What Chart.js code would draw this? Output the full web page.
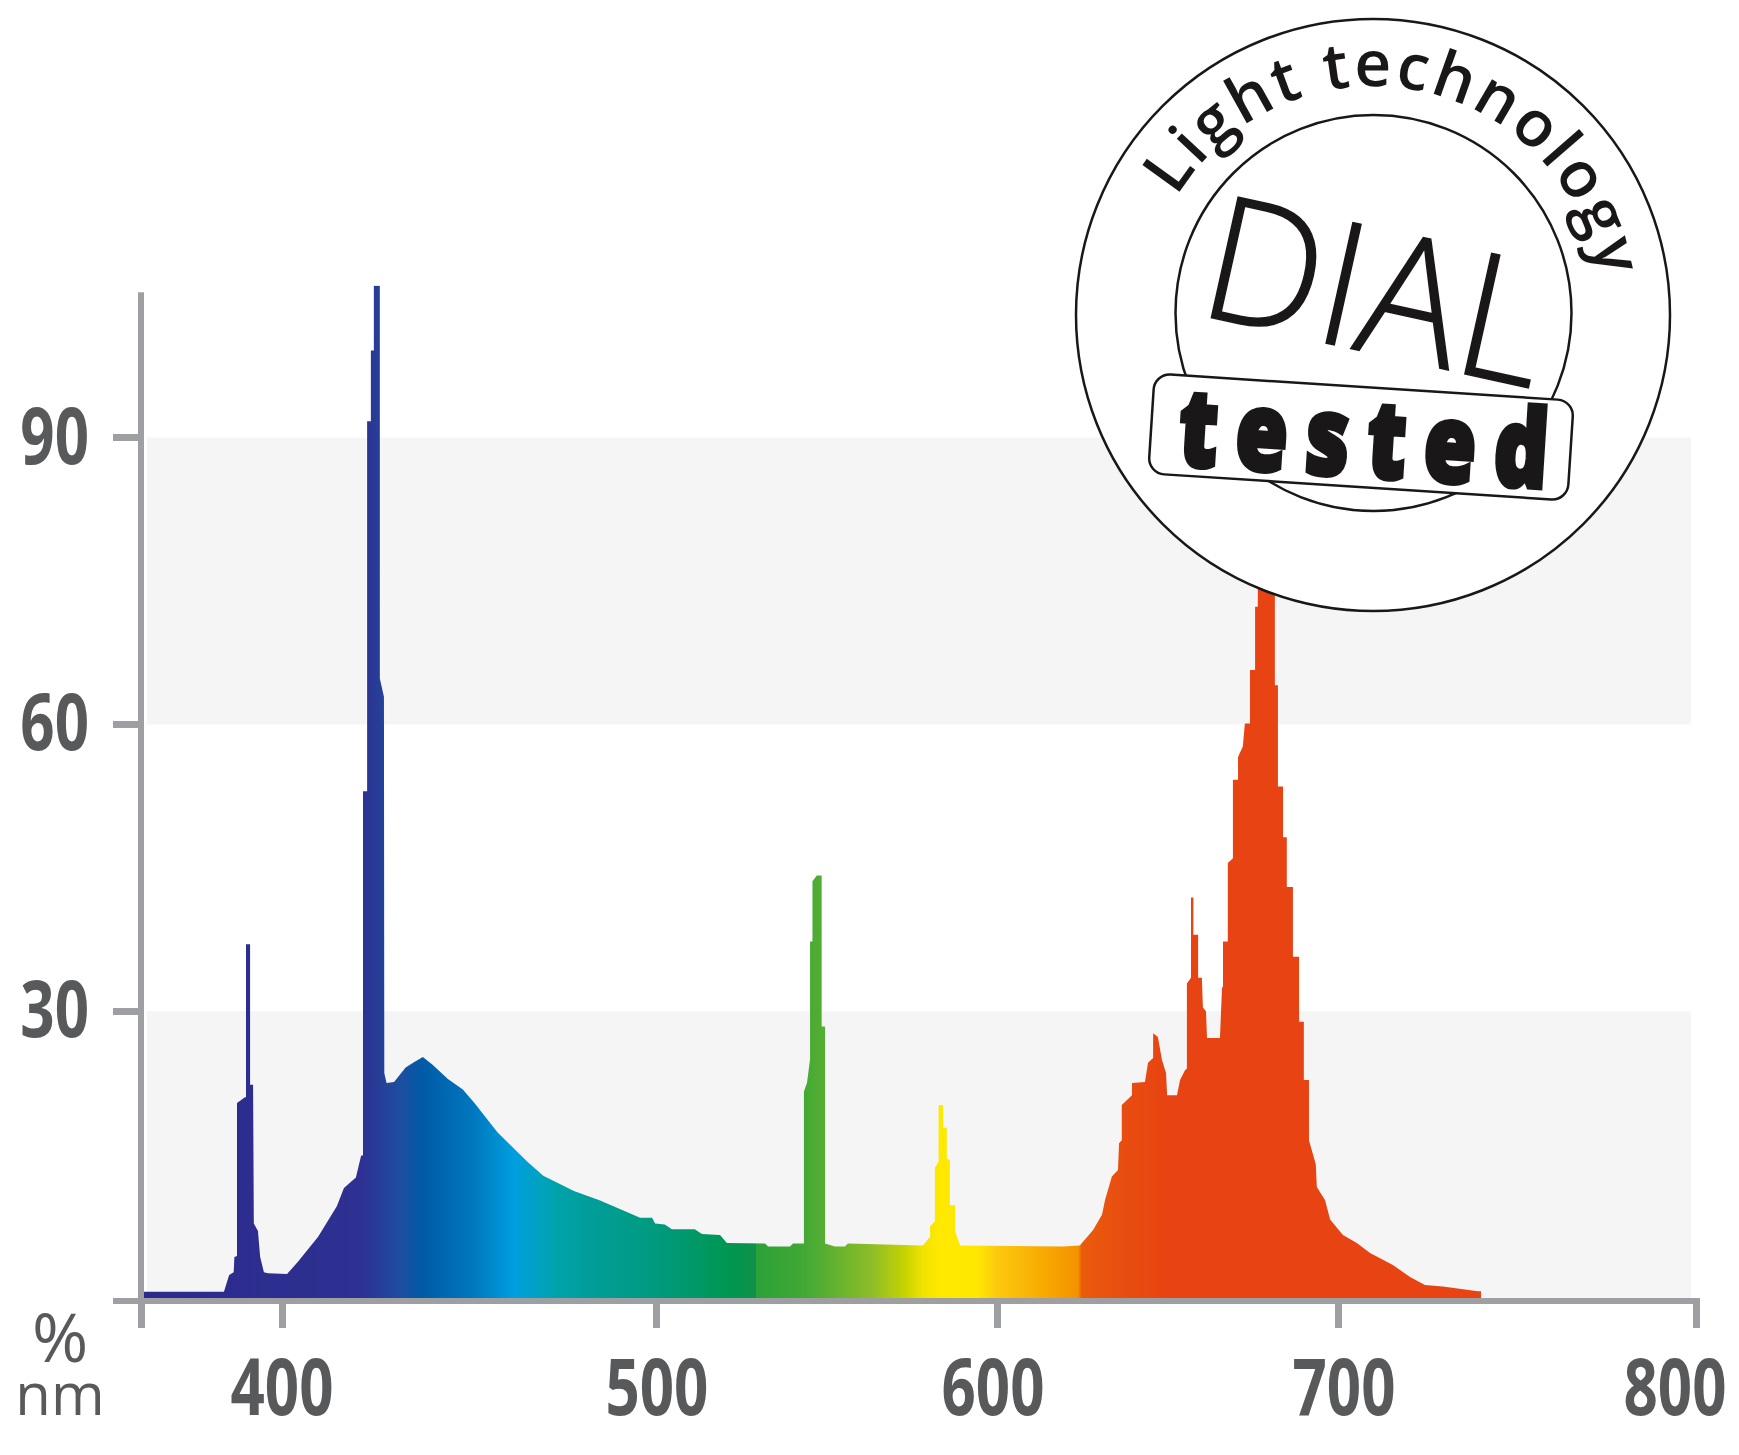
<!DOCTYPE html>
<html>
<head>
<meta charset="utf-8">
<title>DIAL light spectrum</title>
<script src="https://cdn.jsdelivr.net/npm/chart.js@4"></script>
<style>
  body { margin: 0; background: #fff; }
  #wrap { position: relative; width: 1739px; height: 1455px; }
  #wrap canvas, #wrap svg { position: absolute; left: 0; top: 0; }
</style>
</head>
<body>
<div id="wrap">
  <canvas id="spectrum" width="1739" height="1455"></canvas>
  <svg width="1739" height="1455" viewBox="0 0 1739 1455">
    <defs>
      <path id="ringPath" d="M1176.7 197 A229 229 0 0 1 1601 295"></path>
    </defs>
    <ellipse cx="1373" cy="315" rx="297" ry="296" fill="#fff" stroke="#1a1718" stroke-width="2.5"></ellipse>
    <circle cx="1373.5" cy="313" r="198" fill="none" stroke="#1a1718" stroke-width="2.5"></circle>
    <text font-family="Open Sans" font-weight="600" font-size="64" fill="#1a1718" letter-spacing="3">
      <textPath href="#ringPath">Light technology</textPath>
    </text>
    <text transform="translate(1195,314) rotate(12.5)" font-family="Open Sans" font-weight="300" font-size="173"
          fill="#1a1718" stroke="#1a1718" stroke-width="1.5" textLength="345" lengthAdjust="spacingAndGlyphs">DIAL</text>
    <rect transform="translate(1361,437) rotate(3.7)" x="-210" y="-50" width="420" height="100" rx="16"
          fill="#fff" stroke="#1a1718" stroke-width="2.5"></rect>
    <text transform="translate(1177,465) rotate(3.6) scale(0.78,1)" font-family="Open Sans" font-weight="800" font-size="108"
          fill="#1a1718" stroke="#1a1718" stroke-width="5" textLength="474" lengthAdjust="spacing">tested</text>
  </svg>
</div>
<script>
// spectrum outline, wavelength (nm) and intensity (%)
const wavelengths = [
  362.8, 384.2, 385.6, 386.8, 387.0, 387.7, 387.7, 389.8, 390.1, 390.1,
  391.2, 391.2, 392.0, 392.2, 393.3, 393.9, 394.9, 396.0, 401.1, 404.0,
  409.4, 414.4, 416.3, 419.5, 420.9, 421.4, 421.4, 422.5, 422.5, 423.5,
  423.5, 424.3, 424.3, 425.9, 425.9, 427.0, 427.1, 427.7, 429.7, 432.8,
  434.8, 437.4, 440.0, 444.1, 448.1, 451.2, 457.4, 465.5, 469.6, 477.8,
  484.8, 495.5, 498.7, 499.5, 502.3, 504.4, 511.1, 513.2, 518.5, 520.5,
  531.7, 532.6, 539.0, 539.9, 542.8, 543.1, 543.1, 544.0, 544.9, 544.9,
  545.6, 545.6, 546.9, 548.3, 548.3, 549.3, 549.3, 552.2, 555.1, 556.0,
  578.0, 580.1, 580.1, 581.5, 581.5, 582.6, 582.6, 583.9, 583.9, 585.0,
  585.0, 585.9, 585.9, 587.4, 587.4, 588.9, 619.1, 624.0, 627.9, 630.5,
  631.4, 633.4, 635.2, 635.5, 636.3, 636.3, 639.3, 639.3, 643.1, 644.0,
  645.5, 645.5, 646.9, 648.1, 649.3, 649.6, 652.5, 653.4, 654.8, 655.4,
  655.4, 656.6, 656.6, 657.3, 657.3, 658.7, 658.7, 659.8, 660.1, 661.0,
  661.3, 665.1, 665.7, 666.0, 666.0, 667.4, 667.4, 668.9, 668.9, 670.4,
  670.4, 671.8, 672.4, 673.9, 673.9, 675.4, 675.4, 676.2, 676.2, 677.6,
  677.6, 679.9, 679.9, 681.2, 681.2, 682.1, 682.1, 683.6, 683.6, 684.7,
  684.7, 686.5, 686.5, 688.3, 688.3, 689.7, 689.7, 691.2, 691.2, 693.2,
  693.5, 695.9, 697.4, 701.1, 705.0, 708.7, 715.1, 719.9, 724.1, 729.1,
  738.9, 739.8, 739.8
];
const intensity = [
  0.66, 0.66, 2.4, 2.7, 4.3, 4.4, 20.4, 21, 21, 37,
  37, 22.3, 22.3, 7.8, 7, 4.3, 2.7, 2.6, 2.5, 3.8,
  6.4, 9.6, 11.5, 12.6, 14.9, 14.9, 53, 53, 91.7, 91.7,
  99.1, 99.1, 105.9, 105.9, 64.8, 62.9, 23.5, 22.5, 22.6, 24.1,
  24.6, 25.2, 24.4, 22.9, 21.8, 20.4, 17.3, 14.2, 12.8, 11.2,
  10.2, 8.4, 8.4, 7.8, 7.7, 7.2, 7.2, 6.7, 6.6, 5.75,
  5.7, 5.4, 5.4, 5.7, 5.7, 5.7, 21.6, 22.5, 25, 37.3,
  37.3, 43.6, 44.2, 44.2, 28.4, 28.4, 5.7, 5.4, 5.4, 5.7,
  5.5, 6.4, 7.5, 8, 13.6, 14.3, 20.2, 20.2, 17.8, 17.8,
  14.6, 14.4, 9.7, 9.7, 7, 5.5, 5.4, 5.5, 7.1, 8.7,
  10.25, 12.7, 13.4, 16.2, 16.5, 20.2, 21.2, 22.5, 22.6, 24.6,
  25.1, 27.7, 27.3, 24.9, 23.5, 21.2, 21.2, 22.8, 23.8, 24,
  32.9, 33.5, 41.9, 41.9, 38, 38, 33.5, 33.5, 30.4, 30,
  27.2, 27.2, 32.5, 32.5, 37.3, 37.3, 45.5, 46, 54.2, 54.2,
  56.6, 57.7, 60.1, 60.1, 65.7, 65.7, 72.3, 72.3, 76, 76,
  82, 82, 76, 76, 64.1, 64.1, 53.5, 53.5, 48.2, 48.2,
  43, 43, 35.7, 35.7, 28.9, 28.9, 22.8, 22.8, 16.5, 14,
  11.6, 10.25, 8.2, 6.6, 5.75, 4.7, 3.45, 2.2, 1.36, 1.2,
  0.7, 0.7, 0
];

const xTickValues = [362, 400, 500, 600, 700, 800];
const xTickLabels = ['', '400', '500', '600', '700', '800'];
const xLabelShift = [0, -1, 0, -5, 5, -21];
const yTickValues = [30, 60, 90];
const yTickLabels = ['30', '60', '90'];
const bandRanges = [[0, 30], [60, 90]];

// rainbow under the curve
const colorStopNm = [362, 421, 431.8, 437, 451, 462, 472.7, 481, 502, 522, 529, 529.2, 542, 549, 555, 563, 573, 578, 583, 593.8, 600, 615, 623.5, 624.6, 636, 650];
const colorStopHex = ['#2b2a8c', '#2e3191', '#1c4f9f', '#005aa6', '#0078bf', '#009fe0', '#00a3ac', '#009e9c', '#009a7a', '#009650', '#0f9148', '#2ca138', '#3fa835', '#55ae32', '#6fb52d', '#8dbd27', '#c8d400', '#f1e300', '#ffe900', '#ffe800', '#fcc80e', '#f7a600', '#f39200', '#ea5b0c', '#e84e10', '#e84312'];

// the printed wavelength axis is not evenly spaced
const axisKnotNm = [362, 400, 500, 600, 700, 800];
const axisKnotPos = [0, 0.0913, 0.3318, 0.5511, 0.7704, 1];

class PrintedAxisScale extends Chart.LinearScale {
  getPixelForValue(value) {
    let i = 0;
    while (i < axisKnotNm.length - 2 && value > axisKnotNm[i + 1]) i++;
    const t = (value - axisKnotNm[i]) / (axisKnotNm[i + 1] - axisKnotNm[i]);
    const pos = axisKnotPos[i] + t * (axisKnotPos[i + 1] - axisKnotPos[i]);
    return this.left + pos * this.width;
  }
}
PrintedAxisScale.id = 'printedAxis';
PrintedAxisScale.defaults = Chart.LinearScale.defaults;
Chart.register(PrintedAxisScale);

const GREY_AXIS = '#9d9fa2';
const GREY_TEXT = '#58595b';

function rainbowFill(context) {
  const chart = context.chart;
  const x = chart.scales.x;
  if (!chart.chartArea || !x) return GREY_AXIS;
  const gradient = chart.ctx.createLinearGradient(x.left, 0, x.right, 0);
  colorStopNm.forEach((nm, i) => {
    gradient.addColorStop((x.getPixelForValue(nm) - x.left) / x.width, colorStopHex[i]);
  });
  return gradient;
}

// tick numbers are a condensed bold face, so squeeze them horizontally
function narrowLabel(ctx, text, px, baseline, align) {
  ctx.save();
  ctx.translate(px, baseline);
  ctx.scale(0.77, 1);
  ctx.font = '700 78px "Open Sans"';
  ctx.fillStyle = GREY_TEXT;
  ctx.textAlign = align;
  ctx.fillText(text, 0, 0);
  ctx.restore();
}

const chartDecor = {
  id: 'chartDecor',
  beforeDatasetsDraw(chart) {
    const { ctx, scales: { x, y } } = chart;
    ctx.save();
    ctx.fillStyle = '#f5f5f5';
    bandRanges.forEach(band => {
      const top = y.getPixelForValue(band[1]);
      ctx.fillRect(x.getPixelForValue(363.6), top, x.getPixelForValue(798.6) - x.getPixelForValue(363.6), y.getPixelForValue(band[0]) - top);
    });
    ctx.restore();
  },
  afterDatasetsDraw(chart) {
    const { ctx, scales: { x, y } } = chart;
    ctx.save();
    ctx.fillStyle = GREY_AXIS;
    // axis lines
    ctx.fillRect(x.left - 3, y.getPixelForValue(105.2), 6, y.bottom + 6 - y.getPixelForValue(105.2));
    ctx.fillRect(x.left - 28, y.bottom, x.right + 3 - x.left + 28, 6);
    // tick labels
    xTickLabels.forEach((label, i) => {
      narrowLabel(ctx, label, x.getPixelForValue(xTickValues[i]) + xLabelShift[i], 1415, 'center');
    });
    yTickLabels.forEach((label, i) => {
      narrowLabel(ctx, label, 89, y.getPixelForValue(yTickValues[i]) + 26, 'right');
    });
    // unit captions
    ctx.fillStyle = GREY_TEXT;
    ctx.textAlign = 'center';
    ctx.font = '400 68px "Open Sans"';
    ctx.fillText('%', 60, 1362);
    ctx.font = '400 58px "Open Sans"';
    ctx.fillText('nm', 60, 1415);
    ctx.restore();
  }
};

new Chart(document.getElementById('spectrum'), {
  type: 'line',
  data: {
    datasets: [{
      label: 'Spectrum',
      data: wavelengths.map((nm, i) => ({ x: nm, y: intensity[i] })),
      borderWidth: 0,
      pointRadius: 0,
      tension: 0,
      fill: 'origin',
      backgroundColor: rainbowFill
    }]
  },
  options: {
    responsive: false,
    animation: false,
    events: [],
    layout: { autoPadding: false, padding: { top: 285.6, right: 43, left: 0, bottom: 0 } },
    plugins: { legend: { display: false }, tooltip: { enabled: false } },
    scales: {
      x: {
        type: 'printedAxis',
        min: 362,
        max: 800,
        afterFit: s => { s.height = 157; },
        afterBuildTicks: s => { s.ticks = xTickValues.map(v => ({ value: v })); },
        border: { display: false },
        grid: { drawOnChartArea: false, tickLength: 30, tickWidth: 7, tickColor: GREY_AXIS },
        ticks: { display: false }
      },
      y: {
        type: 'linear',
        min: 0,
        max: 105.9,
        afterFit: s => { s.width = 141; },
        afterBuildTicks: s => { s.ticks = yTickValues.map(v => ({ value: v })); },
        border: { display: false },
        grid: { drawOnChartArea: false, tickLength: 28, tickWidth: 7, tickColor: GREY_AXIS },
        ticks: { display: false }
      }
    }
  },
  plugins: [chartDecor]
});
</script>
</body>
</html>
